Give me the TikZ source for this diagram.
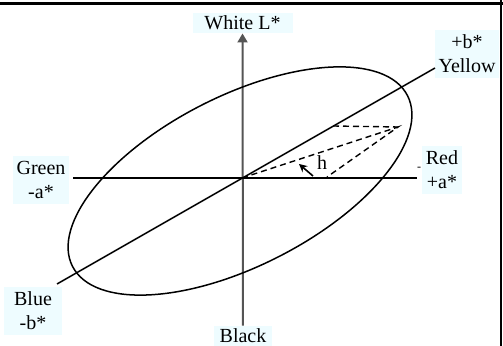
\documentclass[tikz,border=0pt]{standalone}
\usepackage{xcolor}
\usepackage{fontspec}
\setmainfont{Liberation Serif}
\usepackage{tikz}
\usetikzlibrary{arrows.meta, positioning, calc}

\definecolor{labelbg}{RGB}{238,252,255}
\definecolor{axisgray}{RGB}{85,85,85}

\begin{document}
\begin{tikzpicture}[
    x=0.5pt, y=-0.5pt,
    lbl/.style={fill=labelbg, align=center, inner xsep=2pt, inner ysep=2.6pt, font=\fontsize{10}{12}\selectfont},
    axis/.style={line width=0.75pt},
    arrow/.style={-{Triangle[length=4.5pt, width=5pt]}, line width=1pt, draw=axisgray},
    hue/.style={dashed, dash pattern=on 3pt off 2pt, line width=0.7pt},
]
\useasboundingbox (0,0) rectangle (503,346);
\draw[line width=1.5pt] (0,4) -- (503,4);
\draw[line width=1pt] (501,0) -- (501,346);

\node[lbl, minimum width=50pt, inner ysep=1.5pt] (white) at (242.5,23) {White L*};
\node[lbl] (yellow) at (467,54) {+b*\\Yellow};
\node[lbl] (red) at (442,170) {Red\\+a*};
\node[lbl] (green) at (41,180) {Green\\-a*};
\node[lbl, minimum width=29pt] (blue) at (33,311) {Blue\\-b*};
\node[lbl, minimum width=29pt, inner ysep=1.5pt] (black) at (243,336) {Black};
\node[font=\fontsize{6}{7}\selectfont, inner sep=0pt] (tick) at (419,169) {-};

\coordinate (o) at (242,178);
\coordinate (aL) at (73,178);
\coordinate (aR) at (417,178);
\coordinate (bL) at (57,284);
\coordinate (bR) at (435,68);

\draw[arrow] (black) -- (white);
\draw[axis] (aL) -- (aR);
\draw[axis] (bL) -- (bR);
\draw[axis, rotate around={27:(240,181)}] (240,181) ellipse [x radius=94pt, y radius=42.5pt];

% hue triangle
\coordinate (p) at (398,127);
\coordinate (q) at (333,126);
\coordinate (f) at (327,177);
\draw[hue] (o) -- (p) -- (f);
\draw[hue] (q) -- (p);

\coordinate (hs) at (313,176);
\coordinate (he) at (299,164);
\draw[-{Stealth[length=4pt, width=4pt]}, line width=0.8pt] (hs) -- (he);
\node[lbl, fill=none, inner sep=0pt] (h) at (322,163) {h};
\end{tikzpicture}
\end{document}
